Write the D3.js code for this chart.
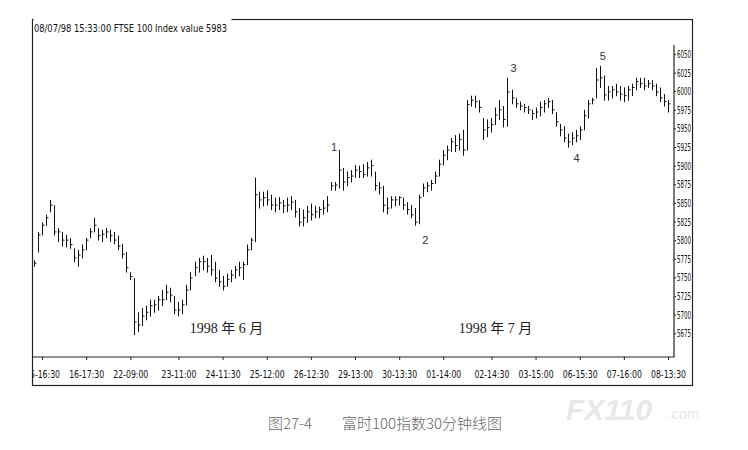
<!DOCTYPE html>
<html><head><meta charset="utf-8">
<script src="https://cdn.jsdelivr.net/npm/d3@7"></script>
<style>body{margin:0;background:#fff}svg{display:block}</style>
</head><body>
<svg id="c" width="748" height="450"></svg>
<script>
// ---- data (30-minute OHLC bars, FTSE 100, June-July 1998) ----
const highs = [
5773,5811,5824,5834,5854,5847,5816,5811,5807,5803,
5789,5787,5794,5803,5816,5830,5816,5814,5816,5814,
5811,5806,5795,5784,5757,5749,5703,5709,5712,5720,
5720,5725,5733,5740,5736,5725,5717,5720,5740,5757,
5771,5776,5779,5776,5780,5771,5760,5752,5755,5760,
5765,5771,5771,5794,5803,5884,5865,5865,5867,5861,
5857,5858,5854,5857,5859,5854,5843,5841,5846,5849,
5846,5845,5854,5859,5878,5878,5921,5897,5892,5894,
5901,5900,5902,5905,5908,5892,5878,5873,5857,5859,
5859,5859,5857,5851,5847,5843,5861,5876,5878,5881,
5892,5908,5921,5927,5937,5941,5943,5948,5988,5994,
5994,5988,5964,5962,5964,5978,5988,5980,6018,6002,
5991,5986,5983,5980,5975,5978,5986,5988,5991,5988,
5972,5956,5953,5943,5945,5948,5953,5975,5988,5991,
6031,6034,6021,6007,6007,6010,6007,6005,6007,6010,
6018,6018,6018,6015,6015,6010,6005,5996,5988];
const lows = [
5765,5784,5807,5820,5838,5807,5798,5792,5791,5789,
5771,5765,5776,5787,5803,5811,5800,5798,5803,5798,
5795,5787,5776,5757,5747,5673,5677,5685,5693,5698,
5703,5706,5712,5720,5717,5701,5698,5701,5713,5733,
5752,5757,5760,5757,5753,5744,5738,5733,5738,5744,
5749,5752,5747,5767,5787,5798,5843,5846,5847,5841,
5838,5841,5837,5838,5841,5831,5819,5819,5824,5827,
5830,5830,5835,5838,5867,5867,5870,5867,5873,5878,
5884,5884,5884,5886,5886,5867,5862,5838,5835,5843,
5846,5847,5841,5835,5830,5820,5822,5859,5865,5867,
5876,5886,5901,5908,5919,5919,5921,5914,5921,5980,
5978,5972,5935,5939,5945,5955,5962,5952,5953,5983,
5978,5975,5972,5970,5962,5964,5967,5972,5978,5970,
5953,5940,5932,5925,5928,5932,5935,5948,5964,5983,
5991,6005,5988,5988,5991,5994,5988,5986,5988,5994,
6002,6005,6002,6005,6002,5994,5986,5980,5972];
const closes = [
5769,5807,5820,5830,5847,5811,5811,5800,5800,5794,
5776,5780,5787,5800,5811,5820,5806,5808,5811,5806,
5800,5792,5781,5763,5751,5690,5686,5698,5703,5712,
5713,5720,5720,5730,5726,5706,5706,5713,5733,5749,
5763,5771,5771,5765,5760,5749,5744,5738,5747,5753,
5760,5763,5767,5787,5800,5861,5854,5857,5854,5847,
5847,5850,5846,5847,5851,5838,5824,5830,5838,5834,
5838,5841,5843,5847,5873,5874,5894,5878,5884,5886,
5894,5892,5888,5897,5900,5873,5870,5847,5843,5854,
5854,5857,5847,5841,5834,5824,5857,5870,5873,5876,
5886,5902,5914,5921,5932,5927,5935,5921,5982,5988,
5986,5978,5948,5951,5955,5968,5975,5962,5999,5991,
5983,5980,5978,5975,5970,5972,5978,5983,5986,5975,
5959,5948,5937,5932,5937,5940,5948,5967,5983,5988,
6015,6018,5995,5999,6002,5999,5996,5994,6002,6005,
6013,6010,6007,6010,6007,5999,5991,5986,5983];
const xTickIndex = [2,13,24,36,47,58,69,80,91,102,114,125,136,147,158];
const xTickLabels = ["15-16:30","16-17:30","22-09:00","23-11:00","24-11:30","25-12:00","26-12:30",
  "29-13:00","30-13:30","01-14:00","02-14:30","03-15:00","06-15:30","07-16:00","08-13:30"];
const yTicks = [5675,5700,5725,5750,5775,5800,5825,5850,5875,5900,5925,5950,5975,6000,6025,6050];
const waves = [
  {i:76, label:"1", at:"high", dx:-5, dy:1},
  {i:95, label:"2", at:"low", dx:10, dy:19},
  {i:118,label:"3", at:"high", dx:6, dy:-6},
  {i:133,label:"4", at:"low", dx:9, dy:15},
  {i:141,label:"5", at:"high", dx:3, dy:-6}
];
const months = [{i:48, text:"1998 年 6 月"}, {i:115, text:"1998 年 7 月"}];
const header = "08/07/98 15:33:00 FTSE 100 Index value 5983";
const caption = "图27-4\u3000\u3000富时100指数30分钟线图";

// ---- drawing ----
const svg = d3.select("#c");
const L = 32, T = 19, R = 692.5, B = 385, axisX = 674, axisY = 357, plotTop = 45;
const x = d3.scaleLinear().domain([0, highs.length - 1]).range([34, 668]);
const y = d3.scaleLinear().domain([5643, 6062]).range([axisY, plotTop]);

svg.append("defs").append("clipPath").attr("id","clip")
  .append("rect").attr("x", L + 0.5).attr("y", T).attr("width", R - L - 1).attr("height", B - T);

const g = svg.append("g").attr("clip-path","url(#clip)");

// frame
svg.append("rect").attr("x", L + 0.5).attr("y", T + 0.5).attr("width", R - L - 0.5).attr("height", B - T)
  .attr("fill","none").attr("stroke","#222").attr("stroke-width",1.2);

// header
const hdr = svg.append("g");
hdr.append("rect").attr("x", L + 1.5).attr("y", T - 2).attr("width", 198).attr("height", 14).attr("fill","#fff");
hdr.append("text").attr("x", 34).attr("y", 32).text(header)
  .attr("font-family","Liberation Sans Narrow, DejaVu Sans Condensed, Liberation Sans, sans-serif")
  .attr("font-size", 11).attr("fill","#111")
  .attr("textLength", 193).attr("lengthAdjust","spacingAndGlyphs");

// bars
const bars = g.append("g").attr("stroke","#111").attr("stroke-width",1);
highs.forEach((h, i) => {
  const xi = Math.round(x(i)) + 0.5;
  bars.append("line").attr("x1", xi).attr("x2", xi).attr("y1", y(h)).attr("y2", y(lows[i]) + 0.5);
  bars.append("line").attr("x1", xi).attr("x2", xi + 2).attr("y1", y(closes[i])).attr("y2", y(closes[i]));
});

// right axis
const ya = svg.append("g").attr("transform", `translate(${axisX},0)`)
  .call(d3.axisRight(y).tickValues(yTicks).tickSize(2).tickPadding(1).tickFormat(d3.format("d")));
ya.select(".domain").attr("d", `M0,${plotTop}V${axisY}`).attr("stroke","#222").attr("stroke-width",1.2);
ya.selectAll(".tick line").attr("stroke","#222");
ya.selectAll(".tick text")
  .attr("font-family","Liberation Sans Narrow, DejaVu Sans Condensed, Liberation Sans, sans-serif")
  .attr("font-size", 11).attr("fill","#111")
  .attr("textLength", 14).attr("lengthAdjust","spacingAndGlyphs");

// bottom axis
const xa = g.append("g").attr("transform", `translate(0,${axisY})`)
  .call(d3.axisBottom(x).tickValues(xTickIndex).tickSize(3).tickPadding(10)
    .tickFormat((d, k) => xTickLabels[k]));
xa.select(".domain").attr("d", `M${L},0H${axisX}V-0.5`).attr("stroke","#222").attr("stroke-width",1.2);
xa.selectAll(".tick line").attr("stroke","#222");
xa.selectAll(".tick text")
  .attr("font-family","Liberation Sans Narrow, DejaVu Sans Condensed, Liberation Sans, sans-serif")
  .attr("font-size", 11).attr("fill","#111")
  .attr("textLength", 35).attr("lengthAdjust","spacingAndGlyphs");

// wave labels
svg.append("g").selectAll("text").data(waves).join("text")
  .attr("x", d => x(d.i) + d.dx)
  .attr("y", d => y(d.at === "high" ? highs[d.i] : lows[d.i]) + d.dy)
  .attr("text-anchor","middle").attr("font-family","Liberation Sans, Arial, sans-serif")
  .attr("font-size", 11).attr("fill","#333").text(d => d.label);

// month labels
svg.append("g").selectAll("text").data(months).join("text")
  .attr("x", d => x(d.i)).attr("y", 333)
  .attr("text-anchor","middle").attr("font-family","Liberation Serif, Noto Sans CJK SC, serif")
  .attr("font-size", 14).attr("fill","#222").text(d => d.text);

// caption
svg.append("text").attr("x", 385).attr("y", 429).attr("text-anchor","middle")
  .attr("font-family","Noto Sans CJK SC, sans-serif").attr("font-weight", 300)
  .attr("font-size", 15).attr("fill","#666").text(caption);

// watermark
const wm = svg.append("g").attr("fill","#e8e8e8").attr("font-family","Liberation Sans, Arial, sans-serif");
wm.append("text").attr("x", 566).attr("y", 420).attr("font-size", 30).attr("font-weight","bold")
  .attr("font-style","italic").text("FX110");
wm.append("text").attr("x", 667).attr("y", 419).attr("font-size", 15).text(".com");
</script>
</body></html>
